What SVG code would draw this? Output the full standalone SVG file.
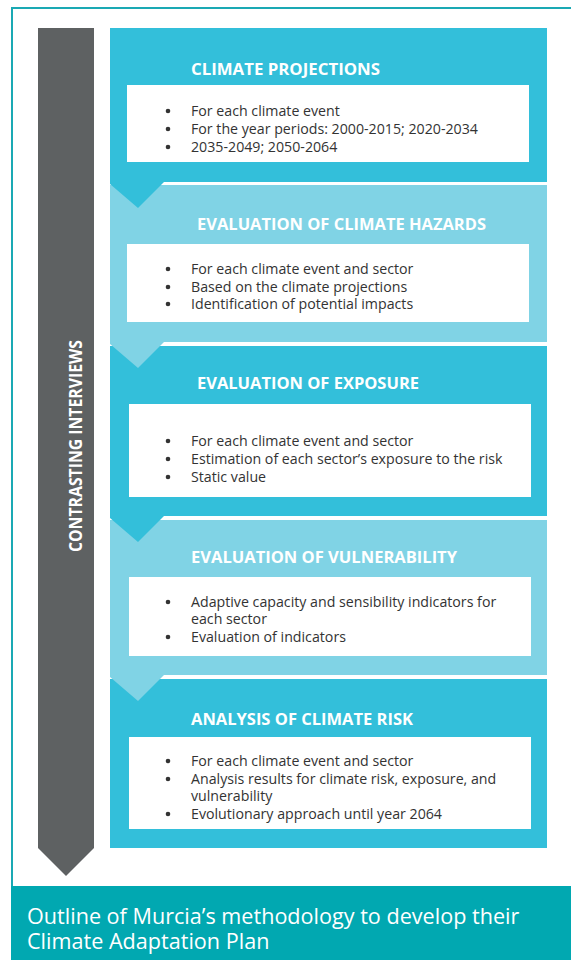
<svg xmlns="http://www.w3.org/2000/svg" width="571" height="960" viewBox="0 0 571 960">
  <defs>
    <style>
      .dark { fill: #33bfda; }
      .light { fill: #80d3e5; }
      .box { fill: #ffffff; }
      .title { font-family: "Open Sans", "Liberation Sans", sans-serif; font-weight: 700; font-size: 16px; fill: #ffffff; }
      .body { font-family: "Open Sans", "Liberation Sans", sans-serif; font-size: 14.2px; fill: #333333; }
      .dot { fill: #333333; }
      .side { font-family: "Open Sans", "Liberation Sans", sans-serif; font-weight: 700; font-size: 17px; fill: #ffffff; }
      .caption { font-family: "Open Sans", "Liberation Sans", sans-serif; font-size: 21.6px; fill: #ffffff; }
    </style>
  </defs>

  <rect x="0" y="0" width="571" height="960" fill="#ffffff"/>

  <!-- outer frame -->
  <path d="M12,888 V8 H571" fill="none" stroke="#1aa9b4" stroke-width="2"/>

  <!-- side bar: contrasting interviews -->
  <g id="interviews">
    <polygon points="38,28 94,28 94,848 66,876 38,848" fill="#5e6162"/>
    <text class="side" transform="translate(82,446) rotate(-90)" text-anchor="middle" textLength="212" lengthAdjust="spacingAndGlyphs">CONTRASTING INTERVIEWS</text>
  </g>

  <!-- step panels -->
  <g id="step5-risk">
    <rect class="dark" x="110" y="679" width="437" height="169"/>
    <rect class="box" x="129" y="737" width="402" height="92"/>
    <text class="title" x="191" y="725" textLength="222" lengthAdjust="spacingAndGlyphs">ANALYSIS OF CLIMATE RISK</text>
    <circle class="dot" cx="168" cy="761" r="2.3"/>
    <circle class="dot" cx="168" cy="779" r="2.3"/>
    <circle class="dot" cx="168" cy="814" r="2.3"/>
    <text class="body" x="191" y="766">For each climate event and sector</text>
    <text class="body" x="191" y="784">Analysis results for climate risk, exposure, and</text>
    <text class="body" x="191" y="801">vulnerability</text>
    <text class="body" x="191" y="819">Evolutionary approach until year 2064</text>
  </g>

  <g id="step4-vulnerability">
    <rect class="light" x="110" y="520" width="437" height="155"/>
    <rect class="box" x="129" y="577" width="402" height="79"/>
    <text class="title" x="191" y="563" textLength="266" lengthAdjust="spacingAndGlyphs">EVALUATION OF VULNERABILITY</text>
    <circle class="dot" cx="168" cy="602" r="2.3"/>
    <circle class="dot" cx="168" cy="637" r="2.3"/>
    <text class="body" x="191" y="607">Adaptive capacity and sensibility indicators for</text>
    <text class="body" x="191" y="624">each sector</text>
    <text class="body" x="191" y="642">Evaluation of indicators</text>
  </g>

  <g id="step3-exposure">
    <rect class="dark" x="110" y="346" width="437" height="170"/>
    <rect class="box" x="129" y="404" width="402" height="93"/>
    <text class="title" x="197" y="389" textLength="222" lengthAdjust="spacingAndGlyphs">EVALUATION OF EXPOSURE</text>
    <circle class="dot" cx="168" cy="441" r="2.3"/>
    <circle class="dot" cx="168" cy="459" r="2.3"/>
    <circle class="dot" cx="168" cy="477" r="2.3"/>
    <text class="body" x="191" y="446">For each climate event and sector</text>
    <text class="body" x="191" y="464">Estimation of each sector’s exposure to the risk</text>
    <text class="body" x="191" y="482">Static value</text>
  </g>

  <g id="step2-hazards">
    <rect class="light" x="110" y="185" width="437" height="157"/>
    <rect class="box" x="127" y="244" width="402" height="78"/>
    <text class="title" x="197" y="230" textLength="289" lengthAdjust="spacingAndGlyphs">EVALUATION OF CLIMATE HAZARDS</text>
    <circle class="dot" cx="168" cy="269" r="2.3"/>
    <circle class="dot" cx="168" cy="287" r="2.3"/>
    <circle class="dot" cx="168" cy="304" r="2.3"/>
    <text class="body" x="191" y="274">For each climate event and sector</text>
    <text class="body" x="191" y="292">Based on the climate projections</text>
    <text class="body" x="191" y="309">Identification of potential impacts</text>
  </g>

  <g id="step1-projections">
    <rect class="dark" x="110" y="28" width="437" height="154"/>
    <rect class="box" x="127" y="85" width="402" height="77"/>
    <text class="title" x="191" y="75" textLength="189" lengthAdjust="spacingAndGlyphs">CLIMATE PROJECTIONS</text>
    <circle class="dot" cx="168" cy="111" r="2.3"/>
    <circle class="dot" cx="168" cy="129" r="2.3"/>
    <circle class="dot" cx="168" cy="147" r="2.3"/>
    <text class="body" x="191" y="116">For each climate event</text>
    <text class="body" x="191" y="134">For the year periods: 2000-2015; 2020-2034</text>
    <text class="body" x="191" y="152">2035-2049; 2050-2064</text>
  </g>

  <!-- chevrons linking each step to the next -->
  <g id="connectors">
    <polygon class="dark" points="110,182 164,182 138,208 110,184"/>
    <polygon class="light" points="110,342 164,342 138,368 110,344"/>
    <polygon class="dark" points="110,516 164,516 138,542 110,518"/>
    <polygon class="light" points="110,675 164,675 138,701 110,677"/>
  </g>

  <!-- caption band -->
  <g id="caption">
    <rect x="11" y="886" width="560" height="74" fill="#01a8b1"/>
    <text class="caption" x="27" y="924">Outline of Murcia’s methodology to develop their</text>
    <text class="caption" x="27" y="949">Climate Adaptation Plan</text>
  </g>
</svg>
